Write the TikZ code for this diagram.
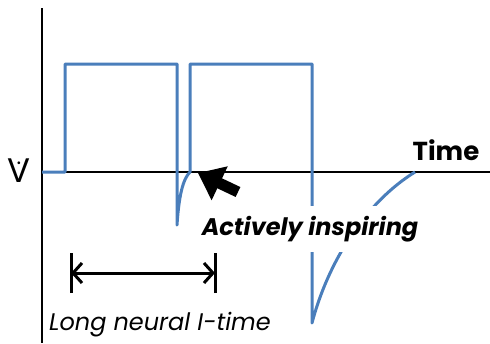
\documentclass[tikz,border=0pt]{standalone}
\usepackage{fontspec}
\setmainfont{Poppins}
\usetikzlibrary{arrows.meta, positioning}
\definecolor{flowblue}{HTML}{4A7EBB}
\tikzstyle{axis} = [line width=2.4pt, black]
\tikzstyle{flow} = [line width=3pt, flowblue, line join=round]
\tikzstyle{axistext} = [inner sep=0pt, anchor=base]
\tikzstyle{note} = [fill=white, inner xsep=2pt, inner ysep=10pt, anchor=base, font=\bfseries\itshape\fontsize{24}{26}\selectfont]
\tikzstyle{span} = [line width=3pt, {Straight Barb[length=9pt,width=20pt]}-{Straight Barb[length=9pt,width=20pt]}]

\begin{document}
\begin{tikzpicture}[x=1pt, y=-1pt]
        \useasboundingbox (0,0) rectangle (490,343);
        % axes
        \coordinate (origin) at (42,172);
        \coordinate (ytop) at (42,8);
        \coordinate (ybot) at (42,343);
        \coordinate (xend) at (490,172);
        \draw [axis] (ytop) -- (ybot);
        \draw [axis] (origin) -- (xend);
        \node (flowsym) [axistext, font=\fontsize{34}{36}\selectfont] at (19,182)
            {\ooalign{V\cr\hidewidth\raisebox{18pt}{\fontsize{22}{22}\selectfont.}\hidewidth\cr}};
        \node (time) [axistext, font=\bfseries\fontsize{26}{30}\selectfont] at (446,160) {Time};

        % flow waveform
        \draw [flow] (origin) -- (65,172) -- (65,64) -- (177,64) -- (177,225)
            .. controls (179,195) and (183,179) .. (190,172) -- (190,64) -- (312,64) -- (312,323)
            .. controls (328,262) and (365,203) .. (415,172);

        \node (active) [note] at (310,235) {Actively inspiring};

        % block arrow
        \coordinate (tail) at (238,192);
        \coordinate (tip) at (198,173);
        \draw [line width=11pt, -{Triangle[length=24pt,width=36pt]}] (tail) -- (tip);

        % inspiratory time span
        \coordinate (spanl) at (71,273);
        \coordinate (spanr) at (215,273);
        \draw [line width=3pt] ([yshift=-20]spanl) -- ([yshift=20]spanl);
        \draw [line width=3pt] ([yshift=-20]spanr) -- ([yshift=20]spanr);
        \draw [span] (spanl) -- (spanr);
        \node (itime) [axistext, font=\itshape\fontsize{24}{26}\selectfont] at (160,330) {Long neural I-time};
    \end{tikzpicture}
\end{document}
